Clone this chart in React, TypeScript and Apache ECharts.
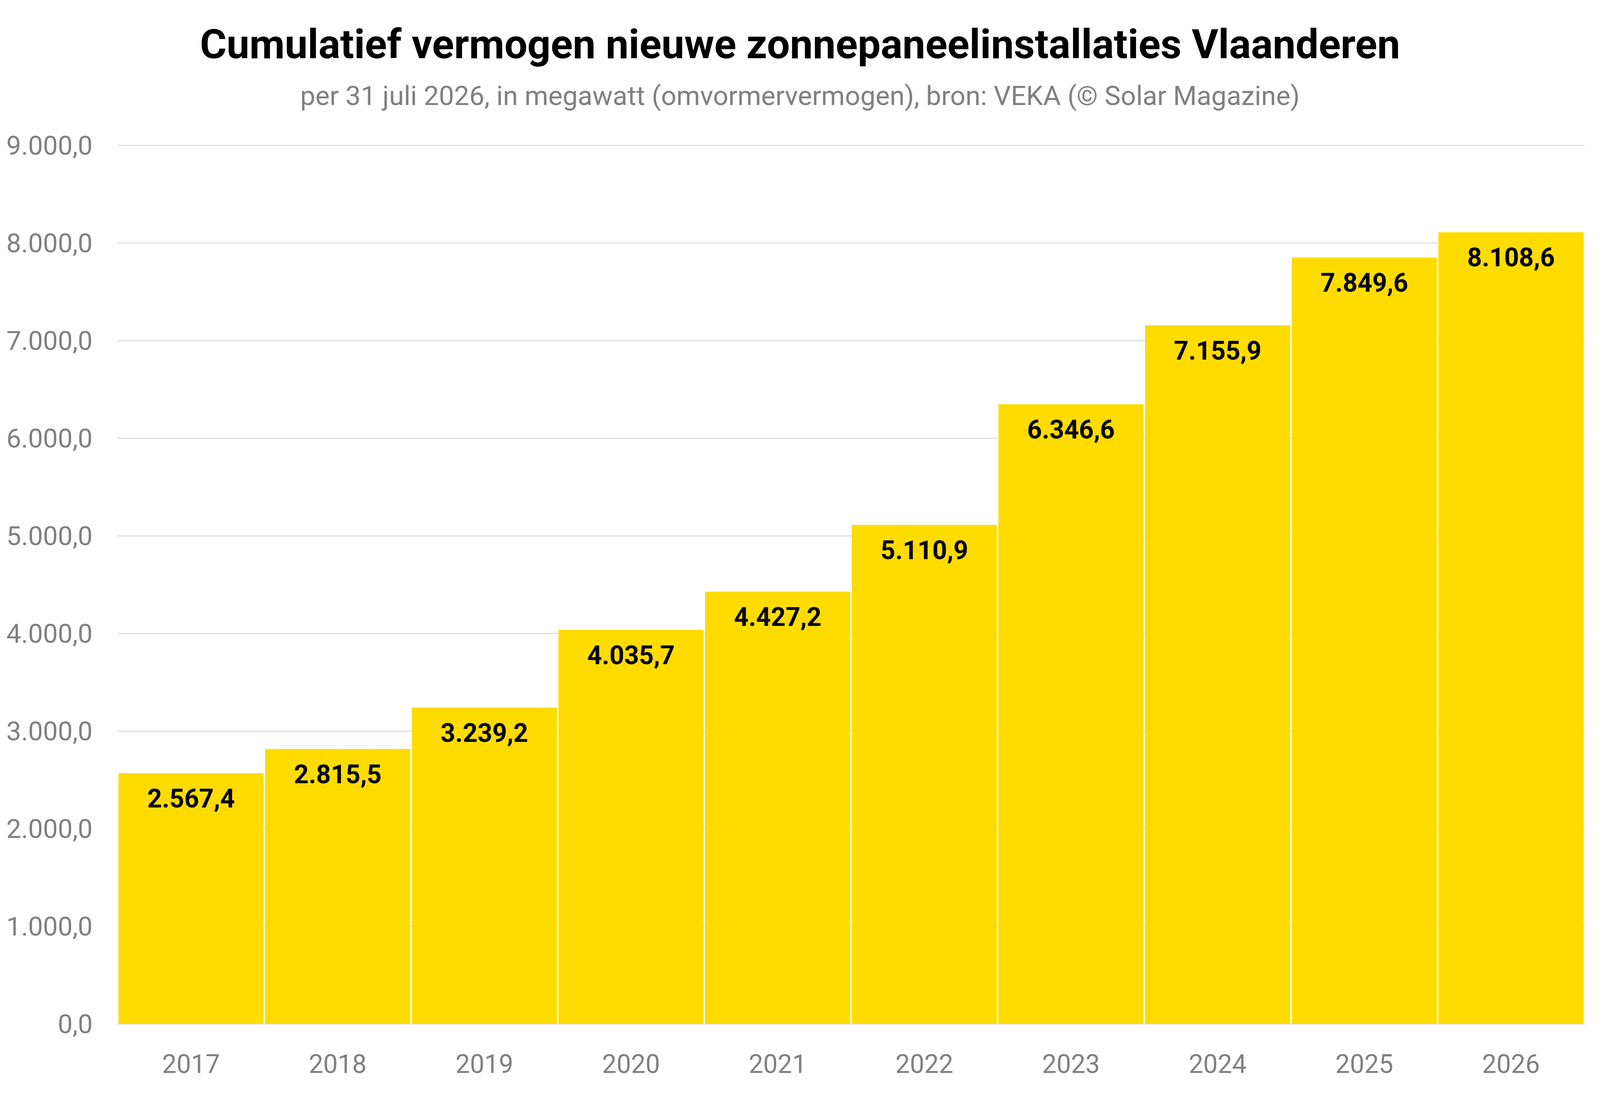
import * as echarts from "echarts";
import { useEffect, useRef, useState } from "react";

// jaren en cumulatief vermogen (MW)
const years = ["2017", "2018", "2019", "2020", "2021", "2022", "2023", "2024", "2025", "2026"];
const capacity = [2567.4, 2815.5, 3239.2, 4035.7, 4427.2, 5110.9, 6346.6, 7155.9, 7849.6, 8108.6];

const titleText = "Cumulatief vermogen nieuwe zonnepaneelinstallaties Vlaanderen";
const subtitleText = "per 31 juli 2026, in megawatt (omvormervermogen), bron: VEKA (© Solar Magazine)";

// 1234.5 -> "1.234,5"
const fmt = (v: number) => {
  const [int, dec] = Number(v).toFixed(1).split(".");
  return int.replace(/\B(?=(\d{3})+(?!\d))/g, ".") + "," + dec;
};

export default function App() {
  const chartRef = useRef<HTMLDivElement>(null);
  // maten gemeten op een beeld van 5097 x 2807, geschaald naar het venster
  const [s] = useState(() => window.innerWidth / 5097);
  const [sy] = useState(() => window.innerHeight / 2807);

  useEffect(() => {
    document.body.style.margin = "0";
    if (!chartRef.current) return;
    const chart = echarts.init(chartRef.current, undefined, { renderer: "svg" });
    chart.setOption({
      animation: false,
      backgroundColor: "#ffffff",
      textStyle: { fontFamily: "Roboto" },
      title: [
        {
          text: titleText,
          left: "center",
          top: 56 * sy,
          textStyle: { fontSize: 130 * s, fontWeight: "bold", color: "#000000", fontFamily: "Roboto" },
        },
        {
          text: subtitleText,
          left: "center",
          top: 206 * sy,
          textStyle: { fontSize: 86 * s, fontWeight: "normal", color: "#808080", fontFamily: "Roboto" },
        },
      ],
      grid: { left: 375 * s, right: 50 * s, top: 372 * sy, bottom: 185 * sy, containLabel: false },
      xAxis: {
        type: "category",
        data: years,
        axisTick: { show: false },
        axisLine: { lineStyle: { color: "#d9d9d9", width: 3 } },
        axisLabel: { color: "#808080", fontSize: 82 * s, margin: 70 * sy, fontFamily: "Roboto" },
      },
      yAxis: {
        type: "value",
        min: 0,
        max: 9000,
        interval: 1000,
        axisLine: { show: false },
        axisTick: { show: false },
        splitLine: { lineStyle: { color: "#dedede", width: 3 } },
        axisLabel: {
          color: "#808080",
          fontSize: 84 * s,
          margin: 80 * s,
          fontFamily: "Roboto",
          formatter: (v: number) => fmt(v),
        },
      },
      series: [
        {
          type: "bar",
          data: capacity,
          barCategoryGap: "1%",
          itemStyle: { color: "#FEDC00" },
          label: {
            show: true,
            position: "insideTop",
            distance: 32 * sy,
            color: "#000000",
            fontSize: 82 * s,
            fontWeight: "bold",
            fontFamily: "Roboto",
            formatter: (p: any) => fmt(p.value),
          },
        },
      ],
    });
    return () => chart.dispose();
  }, [s, sy]);

  return <div ref={chartRef} style={{ width: 5097 * s, height: 2807 * sy }} />;
}
